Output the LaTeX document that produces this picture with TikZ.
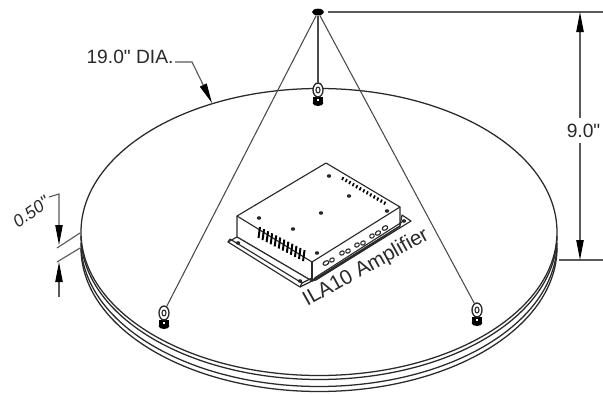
\documentclass[tikz,border=0pt]{standalone}
\usepackage{fontspec}
\newfontfamily\lblfont{Liberation Sans}
\usetikzlibrary{arrows.meta,shapes.geometric}
\definecolor{ink}{HTML}{2A2A2A}
\definecolor{dimc}{HTML}{5A5A5A}
\tikzset{
  outline/.style={draw=ink,line width=0.85pt,line join=round},
  rope/.style={draw=ink!85,line width=0.8pt},
  dimline/.style={draw=dimc,line width=0.85pt},
  dimarrow/.style={dimline,-{Stealth[length=15pt,width=5.5pt,inset=0pt,color=black]}},
  label/.style={text=ink,font=\lblfont\fontsize{14.4}{16}\selectfont,inner sep=0pt},
  hole/.style={fill=ink,draw=none},
  fin/.style={draw=black,line width=1.5pt},
  rim/.style={draw=ink,line width=0.95pt}
}
\newcommand{\eyebolt}[2]{%
  \fill[black] (#1-5,#2+7) rectangle (#1+5,#2+13);
  \fill[black] (#1,#2+13) ellipse [x radius=5.4,y radius=3];
  \draw[outline,fill=white,line width=1pt] (#1,#2) ellipse [x radius=5,y radius=7];
  \draw[outline] (#1,#2) ellipse [x radius=2,y radius=3];
  \fill[white] (#1-1.2,#2+8.5) rectangle (#1+1.2,#2+10.5);
}
\begin{document}
\begin{tikzpicture}[x=0.75pt,y=-0.75pt]
\path[use as bounding box,fill=white] (0,0) rectangle (603,393);
% disc
\draw[rim] (319,232) ellipse [x radius=238,y radius=143.5];
\foreach \off in {4,11,16}
  \draw[rim] plot[smooth,samples=90,domain=0:180] ({319+238*cos(\x)},{232+143.5*sin(\x)+\off});
% amplifier
\coordinate (A) at (326,163);
\coordinate (B) at (237,216);
\coordinate (C) at (400,207);
\coordinate (D) at (312,262);
\coordinate (Bb) at (237,237);
\coordinate (Db) at (312,281);
\coordinate (Cb) at (400,226);
\draw[outline,fill=white] (A) -- (C) -- (Cb) -- (Db) -- (Bb) -- (B) -- cycle;
\draw[outline] (B) -- (D) -- (C);
\draw[outline] (D) -- (Db);
\draw[outline,fill=white] (Bb) -- (228,242) -- (300,287) -- (312,281) -- cycle;
\draw[outline] (230,239) -- (302,283) -- (312,278);
\draw[outline] (228,242) -- (230,239);
\draw[outline] (300,287) -- (302,283);
\draw[outline,fill=white] (Cb) -- (402,215) -- (411,221) -- (316,280) -- (Db) -- cycle;
\draw[outline] (Db) -- (316,277) -- (402,222);
\foreach \hx/\hy in {329/176,349/196,321/213,259/218,293/229,317/253,387/211,238/243,300/281,404/221}
  \fill[hole] (\hx,\hy) ellipse [x radius=2.2,y radius=1.8];
% front-left fins
\foreach \i in {0,...,11}
  \draw[fin] ({260+\i*4.05},{227+\i*2.1}) -- ({258.5+\i*4.05},{238+\i*2.1});
% back-right fins
\foreach \i in {0,...,12}
  \draw[fin,line width=1.2pt] ({343.5+\i*3.5},{177+\i*2.05}) -- ({342+\i*3.5},{180+\i*2.05});
% side connectors
\foreach \cx/\cy/\r in {326/263/3.2,332/260/2.4,342/253/2.4,348/251/2.4,357/245/2.4,363/243/2.4,372/236/2.4,378/233/2.8,385/228/3}
  \draw[outline,shift={(\cx,\cy)},rotate=30] (0,0) ellipse [x radius=\r,y radius=2];
% eye bolts and ropes
\node[ellipse,fill=black,inner sep=0pt,minimum width=9pt,minimum height=5pt] (knot) at (318,12) {};
\coordinate (eyeT) at (318,90);
\coordinate (eyeL) at (164,313);
\coordinate (eyeR) at (477,310);
\eyebolt{318}{90}
\eyebolt{164}{313}
\eyebolt{477}{310}
\draw[rope] (knot) -- ([yshift=5.2pt]eyeT);
\draw[rope] (knot) -- ([xshift=1.8pt,yshift=4.6pt]eyeL);
\draw[rope] (knot) -- ([xshift=-1.8pt,yshift=4.6pt]eyeR);
% labels
\node[label,anchor=center] (dia) at (130,57) {19.0" DIA.};
\coordinate (diaBend) at (192,62);
\coordinate (diaStart) at (175,62);
\coordinate (diaTip) at (212,103);
\draw[dimarrow] (diaStart) -- (diaBend) -- (diaTip);
\node[label,anchor=center,rotate=29,font=\lblfont\fontsize{15.5}{17}\selectfont] (amp) at (366,268) {ILA10 Amplifier};
\node[label,anchor=center,rotate=35,font=\lblfont\itshape\fontsize{13}{15}\selectfont] (thick) at (31,212) {0.50"};
% 9.0 dimension
\coordinate (topA) at (328,12);
\coordinate (topB) at (603,12);
\coordinate (botA) at (559,260);
\coordinate (botB) at (603,260);
\draw[dimline,line width=1pt] (topA) -- (topB);
\draw[dimline,line width=1pt] (botA) -- (botB);
\node[label,anchor=center] (nine) at (583.5,131) {9.0"};
\coordinate (upStart) at (580,118);
\coordinate (dnStart) at (580,143);
\coordinate (upTip) at (580,12);
\coordinate (dnTip) at (580,260);
\draw[dimarrow] (upStart) -- (upTip);
\draw[dimarrow] (dnStart) -- (dnTip);
% 0.50 dimension
\coordinate (e1a) at (80,233); \coordinate (e1b) at (57,248);
\coordinate (e2a) at (80,248); \coordinate (e2b) at (57,262);
\draw[dimline] (e1a) -- (e1b);
\draw[dimline] (e2a) -- (e2b);
\coordinate (tipU) at (59,245);
\coordinate (tipD) at (59,262);
\coordinate (tailD) at (59,297);
\coordinate (bend) at (59,194);
\coordinate (lead) at (49,197);
\draw[dimarrow] (lead) -- (bend) -- (tipU);
\draw[dimarrow] (tailD) -- (tipD);
\end{tikzpicture}
\end{document}
